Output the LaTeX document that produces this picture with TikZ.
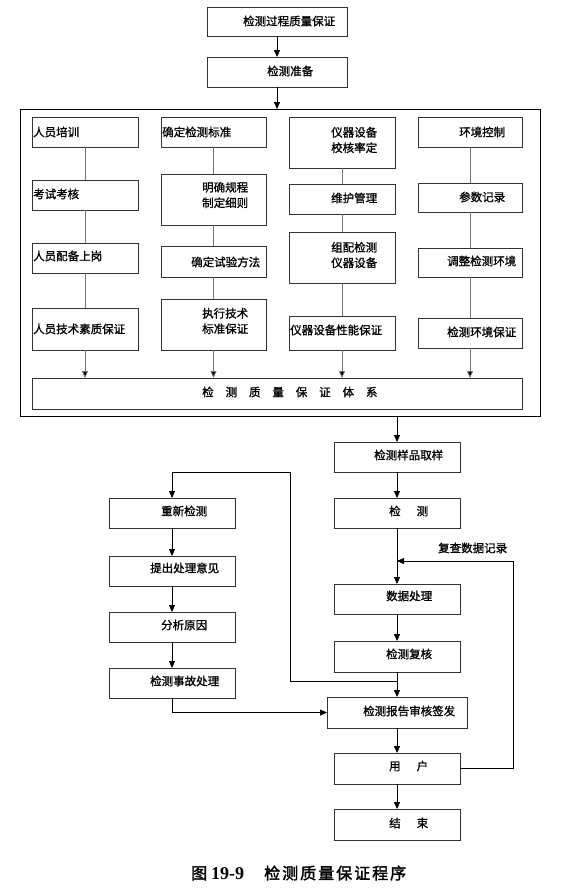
\documentclass[tikz,border=0pt]{standalone}
\usepackage{fontspec}
\usetikzlibrary{arrows.meta}
\newfontfamily\cjk[FakeBold=1.2]{Noto Sans CJK SC}
\newfontfamily\cjkcap[FakeBold=2]{Noto Sans CJK SC}
\newfontfamily\capserif{Liberation Serif}
\newcommand\mybox[5]{\node[box,minimum width={(#4-#2)*1pt},minimum height={(#5-#3)*1pt}] (#1) at (#2,#3) {};}
\newcommand\mytxt[4]{\node[txt] (#1) at (#2,#3) {#4};}
\begin{document}
\begin{tikzpicture}[x=1pt,y=-1pt,
  box/.style={draw=black!80,line width=0.8pt,inner sep=0pt,outer sep=0pt,anchor=north west},
  txt/.style={font=\cjk\fontsize{11.5}{15.5}\selectfont,inner sep=0pt,anchor=west,align=left},
  ln/.style={draw=black!55,line width=0.8pt},
  garr/.style={draw=black!55,line width=0.8pt,-{Triangle[length=7pt,width=6pt,fill=black]}},
  arr/.style={draw=black,line width=0.8pt,-{Triangle[length=7pt,width=6pt]}}]
\useasboundingbox[fill=white] (0,0) rectangle (573,895);
% top
\mybox{t1}{207}{7}{347}{36}
\mybox{t2}{207}{57}{347}{87}
\node[box,draw=black,minimum width=520pt,minimum height=307pt] (frame) at (20,109) {};
% column 1
\mybox{a1}{32}{117}{138}{147}
\mybox{a2}{32}{180}{138}{210}
\mybox{a3}{32}{243}{138}{273}
\mybox{a4}{32}{308}{138}{350}
% column 2
\mybox{b1}{161}{117}{266}{147}
\mybox{b2}{161}{174}{266}{225}
\mybox{b3}{161}{246}{266}{277}
\mybox{b4}{161}{299}{266}{350}
% column 3
\mybox{c1}{289}{117}{395}{168}
\mybox{c2}{289}{184}{395}{214}
\mybox{c3}{289}{232}{395}{283}
\mybox{c4}{289}{316}{395}{350}
% column 4
\mybox{d1}{418}{117}{522}{147}
\mybox{d2}{418}{183}{522}{212}
\mybox{d3}{418}{248}{522}{277}
\mybox{d4}{418}{318}{522}{348}
\mybox{sys}{32}{378}{522}{409}
% lower main column
\mybox{s1}{334}{442}{460}{472}
\mybox{s2}{334}{498}{460}{528}
\mybox{s3}{334}{584}{460}{614}
\mybox{s4}{334}{641}{460}{672}
\mybox{s5}{327}{697}{467}{728}
\mybox{s6}{334}{753}{460}{784}
\mybox{s7}{334}{809}{460}{840}
% left column
\mybox{r1}{109}{498}{235}{528}
\mybox{r2}{109}{556}{235}{586}
\mybox{r3}{109}{612}{235}{642}
\mybox{r4}{109}{668}{235}{698}
% texts
\mytxt{t1t}{243}{21}{检测过程质量保证}
\mytxt{t2t}{267}{71}{检测准备}
\mytxt{a1t}{33}{132}{人员培训}
\mytxt{a2t}{33}{194}{考试考核}
\mytxt{a3t}{33}{256}{人员配备上岗}
\mytxt{a4t}{33}{329}{人员技术素质保证}
\mytxt{b1t}{162}{132}{确定检测标准}
\mytxt{b2t}{202}{195}{明确规程\\制定细则}
\mytxt{b3t}{191}{262}{确定试验方法}
\mytxt{b4t}{202}{321}{执行技术\\标准保证}
\mytxt{c1t}{331}{140}{仪器设备\\校核率定}
\mytxt{c2t}{331}{198}{维护管理}
\mytxt{c3t}{331}{255}{组配检测\\仪器设备}
\mytxt{c4t}{290}{330}{仪器设备性能保证}
\mytxt{d1t}{459}{132}{环境控制}
\mytxt{d2t}{459}{197}{参数记录}
\mytxt{d3t}{447}{261}{调整检测环境}
\mytxt{d4t}{447}{332}{检测环境保证}
\mytxt{syst}{202}{392}{检\hspace{11.9pt}测\hspace{11.9pt}质\hspace{11.9pt}量\hspace{11.9pt}保\hspace{11.9pt}证\hspace{11.9pt}体\hspace{11.9pt}系}
\mytxt{s1t}{374}{455}{检测样品取样}
\mytxt{s2t}{389}{511}{检\hspace{16pt}测}
\mytxt{s3t}{386}{596}{数据处理}
\mytxt{s4t}{386}{654}{检测复核}
\mytxt{s5t}{363}{711}{检测报告审核签发}
\mytxt{s6t}{389}{766}{用\hspace{16pt}户}
\mytxt{s7t}{389}{823}{结\hspace{16pt}束}
\mytxt{r1t}{161}{511}{重新检测}
\mytxt{r2t}{150}{568}{提出处理意见}
\mytxt{r3t}{161}{625}{分析原因}
\mytxt{r4t}{150}{681}{检测事故处理}
\mytxt{fbt}{438}{548}{复查数据记录}
\node[inner sep=0pt,anchor=west,font=\cjkcap\fontsize{16}{18}\selectfont] (cap) at (191,873)
  {图\hspace{4pt}{\capserif\fontsize{18}{18}\selectfont\bfseries 19-9}\hspace{20pt}检\hspace{2pt}测\hspace{2pt}质\hspace{2pt}量\hspace{2pt}保\hspace{2pt}证\hspace{2pt}程\hspace{2pt}序};
% top connectors
\draw[arr] (t1.south) -- (t2.north);
\draw[arr] (t2.south) -- (t2.south |- frame.north);
% column connectors
\foreach \p/\q in {a1/a2,a2/a3,a3/a4,b1/b2,b2/b3,b3/b4,c1/c2,c2/c3,c3/c4,d1/d2,d2/d3,d3/d4}
  \draw[ln] (\p.south) -- (\q.north);
\foreach \p in {a4,b4,c4,d4}
  \draw[garr] (\p.south) -- (\p.south |- sys.north);
% lower
\draw[arr] (s1.north |- frame.south) -- (s1.north);
\draw[arr] (s1.south) -- (s2.north);
\draw[arr] (s2.south) -- (s3.north);
\draw[arr] (s3.south) -- (s4.north);
\draw[arr] (s4.south) -- (s5.north);
\draw[arr] (s5.south) -- (s6.north);
\draw[arr] (s6.south) -- (s7.north);
\coordinate (j1) at (397,681);
\coordinate (k1) at (290,681);
\coordinate (k2) at (290,472);
\draw[arr] (j1) -- (k1) -- (k2) -| (r1.north);
\draw[arr] (r1.south) -- (r2.north);
\draw[arr] (r2.south) -- (r3.north);
\draw[arr] (r3.south) -- (r4.north);
\draw[arr] (r4.south) |- (s5.west);
\coordinate (fb) at (513,561);
\draw[arr] (s6.east) -| (fb) -- (fb -| s2.south);
\end{tikzpicture}
\end{document}
